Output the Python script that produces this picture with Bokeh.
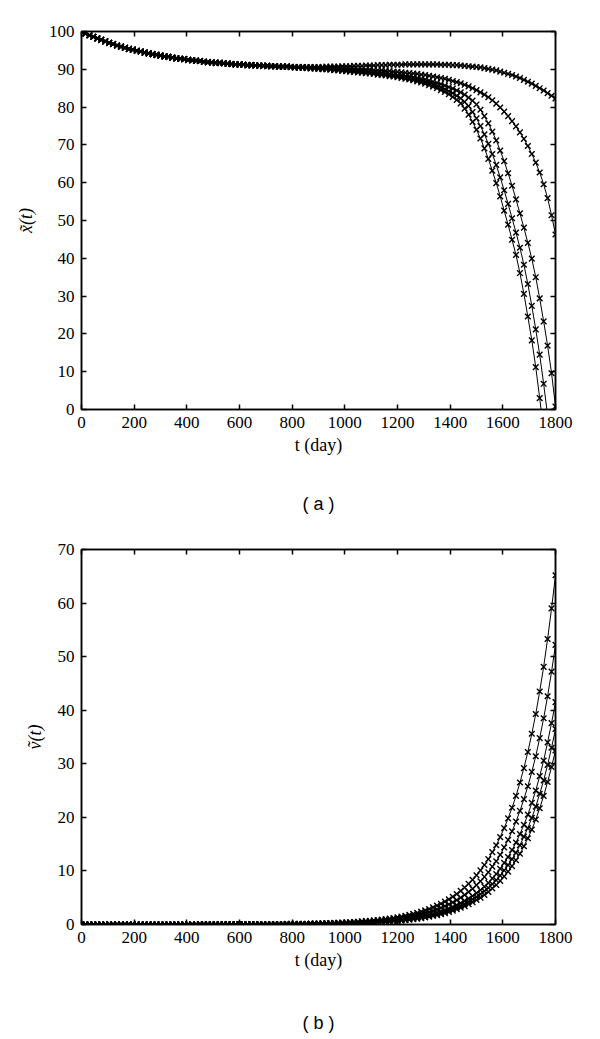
from bokeh.plotting import figure
from bokeh.models import Range1d, LinearAxis, FixedTicker, CustomLabelingPolicy
from bokeh.layouts import column
from bokeh.embed import file_html
from bokeh.resources import INLINE

# time grid (days) for the sampled points
days = list(range(0, 1801, 15))

# ---------- panel (a): x~(t) ----------
# common early part of all five curves, t = 0 .. 795
x_common = [100.0, 99.5, 99.0, 98.6, 98.2, 97.8, 97.4, 97.0, 96.7, 96.3,
            96.0, 95.7, 95.4, 95.2, 94.9, 94.7, 94.4, 94.2, 94.0, 93.8,
            93.6, 93.4, 93.3, 93.1, 92.9, 92.8, 92.7, 92.5, 92.4, 92.3,
            92.2, 92.0, 91.9, 91.8, 91.7, 91.7, 91.6, 91.5, 91.4, 91.3,
            91.3, 91.2, 91.1, 91.1, 91.0, 91.0, 90.9, 90.9, 90.8, 90.8,
            90.7, 90.7, 90.7, 90.6]
# continuation of each curve from t = 810
x_tail_1 = [90.6, 90.6, 90.6, 90.6, 90.6, 90.6, 90.6, 90.6, 90.7, 90.7,
            90.7, 90.7, 90.8, 90.8, 90.8, 90.9, 90.9, 90.9, 91.0, 91.0,
            91.0, 91.1, 91.1, 91.1, 91.2, 91.2, 91.2, 91.2, 91.3, 91.3,
            91.3, 91.3, 91.3, 91.3, 91.3, 91.3, 91.3, 91.2, 91.2, 91.2,
            91.1, 91.1, 91.0, 90.9, 90.8, 90.7, 90.6, 90.5, 90.3, 90.1,
            89.9, 89.7, 89.4, 89.1, 88.8, 88.5, 88.1, 87.7, 87.2, 86.7,
            86.2, 85.6, 85.0, 84.4, 83.7, 83.0, 82.3]
x_tail_2 = [90.6, 90.6, 90.6, 90.5, 90.5, 90.5, 90.4, 90.4, 90.4, 90.3,
            90.3, 90.3, 90.2, 90.2, 90.1, 90.1, 90.0, 90.0, 89.9, 89.9,
            89.8, 89.7, 89.7, 89.6, 89.5, 89.4, 89.3, 89.2, 89.1, 89.0,
            88.9, 88.8, 88.6, 88.5, 88.3, 88.1, 87.9, 87.7, 87.5, 87.2,
            86.9, 86.6, 86.3, 85.9, 85.5, 85.0, 84.5, 83.9, 83.3, 82.6,
            81.8, 80.9, 79.9, 78.8, 77.6, 76.3, 74.9, 73.3, 71.6, 69.7,
            67.6, 65.3, 62.7, 59.6, 55.9, 51.4, 46.3]
x_tail_3 = [90.5, 90.5, 90.5, 90.4, 90.4, 90.4, 90.3, 90.3, 90.2, 90.2,
            90.1, 90.1, 90.0, 89.9, 89.8, 89.7, 89.6, 89.5, 89.4, 89.3,
            89.2, 89.1, 89.0, 88.9, 88.8, 88.6, 88.5, 88.4, 88.2, 88.1,
            87.9, 87.7, 87.5, 87.3, 87.0, 86.7, 86.4, 86.1, 85.7, 85.3,
            84.9, 84.4, 83.9, 83.3, 82.5, 81.7, 80.7, 79.3, 77.6, 75.7,
            73.5, 71.2, 68.5, 65.7, 62.5, 59.2, 55.6, 51.9, 48.1, 44.1,
            39.9, 35.0, 29.4, 23.3, 16.9, 9.6, 0.8]
x_tail_4 = [90.5, 90.5, 90.4, 90.4, 90.3, 90.3, 90.2, 90.1, 90.1, 90.0,
            89.9, 89.9, 89.8, 89.7, 89.6, 89.5, 89.4, 89.3, 89.2, 89.1,
            89.0, 88.9, 88.8, 88.6, 88.5, 88.4, 88.2, 88.1, 87.9, 87.6,
            87.4, 87.2, 86.9, 86.6, 86.3, 86.0, 85.6, 85.2, 84.7, 84.2,
            83.7, 83.0, 82.3, 81.4, 80.3, 78.7, 77.0, 75.0, 72.8, 70.3,
            67.6, 64.7, 61.4, 58.0, 54.4, 50.6, 46.8, 42.8, 38.3, 33.2,
            27.4, 21.2, 14.5, 6.8, -1.5]
x_tail_5 = [90.5, 90.4, 90.4, 90.3, 90.2, 90.2, 90.1, 90.0, 90.0, 89.9,
            89.8, 89.7, 89.6, 89.5, 89.4, 89.3, 89.2, 89.1, 89.0, 88.9,
            88.8, 88.6, 88.5, 88.4, 88.2, 88.1, 87.9, 87.7, 87.5, 87.3,
            87.1, 86.8, 86.5, 86.2, 85.8, 85.4, 85.0, 84.5, 84.0, 83.4,
            82.7, 81.9, 81.0, 79.6, 78.0, 76.1, 74.0, 71.7, 69.1, 66.3,
            63.2, 59.9, 56.4, 52.6, 48.9, 44.9, 40.9, 36.1, 30.6, 24.6,
            18.3, 11.2, 3.0, -5.5]

# ---------- panel (b): v~(t) ----------
# common early part, t = 0 .. 900
v_common = [0.0] * 30 + [0.01, 0.01, 0.01, 0.01, 0.01, 0.01, 0.01, 0.01, 0.02, 0.02,
                         0.02, 0.02, 0.02, 0.02, 0.03, 0.03, 0.03, 0.03, 0.04, 0.04,
                         0.05, 0.05, 0.06, 0.07, 0.07, 0.08, 0.09, 0.10, 0.11, 0.13,
                         0.14]
# continuation from t = 915
v_tail_1 = [0.22, 0.24, 0.26, 0.29, 0.32, 0.35, 0.38, 0.42, 0.47, 0.51,
            0.57, 0.62, 0.69, 0.76, 0.83, 0.92, 1.01, 1.11, 1.22, 1.35,
            1.48, 1.63, 1.8, 1.98, 2.18, 2.4, 2.64, 2.9, 3.2, 3.52,
            3.88, 4.27, 4.7, 5.18, 5.7, 6.27, 6.9, 7.6, 8.35, 9.2,
            10.1, 11.1, 12.2, 13.5, 14.8, 16.3, 18.0, 19.8, 21.8, 24.0,
            26.5, 29.2, 32.2, 35.6, 39.3, 43.5, 48.1, 53.3, 59.0, 65.2]
v_tail_2 = [0.18, 0.19, 0.21, 0.23, 0.26, 0.28, 0.30, 0.34, 0.38, 0.41,
            0.46, 0.50, 0.55, 0.61, 0.66, 0.74, 0.81, 0.89, 0.98, 1.08,
            1.18, 1.30, 1.44, 1.58, 1.74, 1.92, 2.11, 2.32, 2.56, 2.82,
            3.10, 3.42, 3.76, 4.14, 4.56, 5.02, 5.52, 6.08, 6.68, 7.36,
            8.08, 8.88, 9.76, 10.8, 11.8, 13.0, 14.4, 15.8, 17.4, 19.2,
            21.2, 23.4, 25.8, 28.5, 31.4, 34.8, 38.5, 42.6, 47.2, 52.2]
v_tail_3 = [0.14, 0.15, 0.17, 0.18, 0.20, 0.22, 0.24, 0.27, 0.30, 0.32,
            0.36, 0.39, 0.44, 0.48, 0.53, 0.59, 0.64, 0.71, 0.78, 0.86,
            0.94, 1.04, 1.15, 1.26, 1.39, 1.53, 1.68, 1.85, 2.04, 2.24,
            2.47, 2.72, 2.99, 3.30, 3.63, 3.99, 4.40, 4.84, 5.32, 5.86,
            6.43, 7.07, 7.77, 8.60, 9.43, 10.4, 11.5, 12.6, 13.9, 15.3,
            16.9, 18.6, 20.5, 22.7, 25.0, 27.7, 30.6, 34.0, 37.6, 41.5]
v_tail_4 = [0.12, 0.13, 0.15, 0.16, 0.18, 0.20, 0.21, 0.24, 0.26, 0.29,
            0.32, 0.35, 0.39, 0.43, 0.46, 0.52, 0.57, 0.62, 0.68, 0.76,
            0.83, 0.91, 1.01, 1.11, 1.22, 1.34, 1.48, 1.62, 1.79, 1.97,
            2.17, 2.39, 2.63, 2.90, 3.19, 3.51, 3.86, 4.26, 4.68, 5.15,
            5.66, 6.22, 6.83, 7.56, 8.29, 9.13, 10.1, 11.1, 12.2, 13.4,
            14.8, 16.4, 18.0, 19.9, 22.0, 24.4, 26.9, 29.8, 33.0, 36.5]
v_tail_5 = [0.11, 0.12, 0.13, 0.14, 0.16, 0.17, 0.19, 0.21, 0.23, 0.25,
            0.28, 0.31, 0.34, 0.38, 0.41, 0.46, 0.50, 0.55, 0.61, 0.67,
            0.74, 0.81, 0.90, 0.99, 1.09, 1.20, 1.32, 1.45, 1.60, 1.75,
            1.93, 2.13, 2.34, 2.58, 2.84, 3.13, 3.44, 3.79, 4.16, 4.59,
            5.03, 5.53, 6.08, 6.73, 7.38, 8.13, 8.97, 9.87, 10.9, 12.0,
            13.2, 14.6, 16.1, 17.7, 19.6, 21.7, 24.0, 26.6, 29.4, 32.5]

x_ticks = [0, 200, 400, 600, 800, 1000, 1200, 1400, 1600, 1800]
ya_ticks = [0, 10, 20, 30, 40, 50, 60, 70, 80, 90, 100]
yb_ticks = [0, 10, 20, 30, 40, 50, 60, 70]

x_series = [x_common + s for s in (x_tail_1, x_tail_2, x_tail_3, x_tail_4, x_tail_5)]
v_series = [v_common + s for s in (v_tail_1, v_tail_2, v_tail_3, v_tail_4, v_tail_5)]

SERIF = "Liberation Serif"
SANS = "Liberation Sans"

NO_LABELS = """
const ks = Array.from(indices)
for (const k of ks) { indices.unset(k) }
return indices
"""


def style_axis(ax, ticks, show_labels=True):
    ax.ticker = FixedTicker(ticks=ticks)
    ax.axis_line_color = "black"
    ax.axis_line_width = 1.5
    ax.major_tick_line_color = "black"
    ax.major_tick_line_width = 1.5
    ax.major_tick_in = 5
    ax.major_tick_out = 0
    ax.minor_tick_line_color = None
    ax.major_label_text_font = SERIF
    ax.major_label_text_color = "black"
    ax.major_label_text_font_size = "17px"
    if show_labels:
        ax.major_label_standoff = 7
    else:
        ax.major_label_standoff = 0
        ax.major_label_policy = CustomLabelingPolicy(code=NO_LABELS)


def make_panel(series, ymax, yticks, ylabel, caption, height, top, bottom, left, cap_standoff):
    p = figure(width=584, height=height, output_backend="svg", toolbar_location=None,
               x_range=Range1d(0, 1800), y_range=Range1d(0, ymax),
               min_border_left=left, min_border_right=584 - left - 481,
               min_border_top=top, min_border_bottom=bottom)
    p.grid.visible = False
    p.outline_line_color = "black"
    p.outline_line_width = 1.5
    p.background_fill_color = "white"
    p.border_fill_color = "white"

    style_axis(p.xaxis[0], x_ticks)
    style_axis(p.yaxis[0], yticks)
    xa = p.xaxis[0]
    xa.axis_label = "t (day)"
    xa.axis_label_text_font = SERIF
    xa.axis_label_text_font_size = "18px"
    xa.axis_label_text_font_style = "normal"
    xa.axis_label_text_color = "black"
    xa.axis_label_standoff = 4
    ya = p.yaxis[0]
    ya.axis_label = ylabel
    ya.axis_label_text_font = SERIF
    ya.axis_label_text_font_size = "18px"
    ya.axis_label_text_font_style = "italic"
    ya.axis_label_text_color = "black"
    ya.axis_label_standoff = 10

    top_ax = LinearAxis()
    style_axis(top_ax, x_ticks, show_labels=False)
    p.add_layout(top_ax, "above")
    right_ax = LinearAxis()
    style_axis(right_ax, yticks, show_labels=False)
    p.add_layout(right_ax, "right")

    cap = LinearAxis(axis_label=caption)
    cap.ticker = FixedTicker(ticks=[])
    cap.axis_line_color = None
    cap.major_tick_line_color = None
    cap.minor_tick_line_color = None
    cap.major_label_standoff = 0
    cap.axis_label_text_font = SANS
    cap.axis_label_text_font_size = "18px"
    cap.axis_label_text_font_style = "normal"
    cap.axis_label_text_color = "black"
    cap.axis_label_standoff = cap_standoff
    p.add_layout(cap, "below")

    for s in series:
        t = days[:len(s)]
        p.line(t, s, line_color="black", line_width=1)
        p.scatter(t, s, marker="x", size=8, line_color="black", line_width=1.4)
    return p


pa = make_panel(x_series, 100, ya_ticks, "x\u0303(t)", "( a )", 520, 31, 111, 81, 36)
pb = make_panel(v_series, 70, yb_ticks, "\u1e7d(t)", "( b )", 515, 29, 108, 80, 40)

layout = column(pa, pb, spacing=0)
open("out.html", "w").write(file_html(layout, INLINE))
